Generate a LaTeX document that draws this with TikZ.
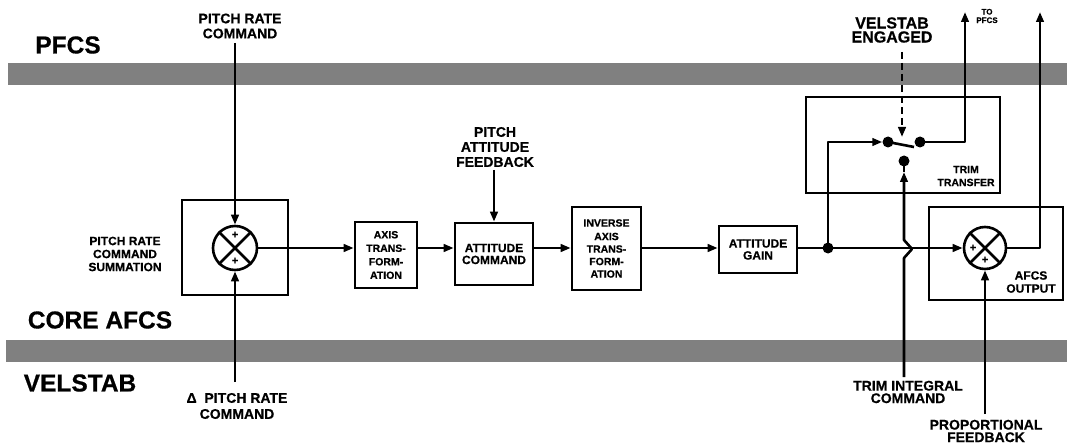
\documentclass[tikz,border=0pt]{standalone}
\usepackage{fontspec}
\setmainfont{Liberation Sans}[BoldFeatures={FakeBold=0.6}]
\usetikzlibrary{arrows.meta,calc}
\begin{document}
\begin{tikzpicture}[x=1pt,y=-1pt,
  ln/.style={line width=2.6pt,line join=round},
  arr/.style={ln,-{Triangle[length=10pt,width=7.5pt]}},
  blk/.style={draw,line width=2.6pt,inner sep=0pt,align=center,font=\fontsize{12}{12}\selectfont\bfseries},
  lab/.style={align=center,inner sep=0pt,font=\fontsize{14}{15}\selectfont\bfseries},
  big/.style={inner sep=0pt,font=\fontsize{24.5}{26}\selectfont\bfseries},
  sumc/.style={circle,draw,line width=2.6pt,minimum size=44pt,inner sep=0pt},
  dotn/.style={circle,fill,inner sep=0pt,minimum size=11pt},
  plus/.style={inner sep=0pt,font=\fontsize{11}{11}\selectfont\bfseries},
  band/.style={fill=black!50}
]
\useasboundingbox (0,0) rectangle (1067,446);
% bands
\fill[band] (8,63) rectangle (1067,85);
\fill[band] (6,340) rectangle (1067,362);
% region labels
\node[big] (pfcs) at (68,45) {PFCS};
\node[big] (core) at (100,320) {CORE AFCS};
\node[big] (vel) at (80,383) {VELSTAB};
% external labels
\node[lab] (prc) at (240,26) {PITCH RATE\\COMMAND};
\node[lab,font=\fontsize{14}{16}\selectfont\bfseries] (dprc) at (237,406) {Δ\ \ PITCH RATE\\COMMAND};
\node[lab] (paf) at (495,147) {PITCH\\ATTITUDE\\FEEDBACK};
\node[lab,font=\fontsize{14}{12.5}\selectfont\bfseries] (tic) at (908,392) {TRIM INTEGRAL\\COMMAND};
\node[lab,font=\fontsize{14}{12.5}\selectfont\bfseries] (pf) at (986,431) {PROPORTIONAL\\FEEDBACK};
\node[lab,font=\fontsize{16}{14}\selectfont\bfseries] (ve) at (892,30) {VELSTAB\\ENGAGED};
\node[lab,font=\fontsize{8}{8.5}\selectfont\bfseries] (topfcs) at (987,16) {TO\\PFCS};
\node[lab,font=\fontsize{12}{13}\selectfont\bfseries] (sumlab) at (125,254) {PITCH RATE\\COMMAND\\SUMMATION};
% blocks
\node[blk,minimum width=106pt,minimum height=95pt] (b1) at (235,247.5) {};
\node[sumc] (s1) at (235,248) {};
\draw[ln] (s1.45)--(s1.225) (s1.135)--(s1.315);
\node[plus] (s1p1) at (235,235) {+};
\node[plus] (s1p2) at (235,261) {+};
\node[blk,minimum width=62pt,minimum height=66pt,font=\fontsize{10.5}{13.5}\selectfont\bfseries] (axis) at (386,255) {AXIS\\TRANS-\\FORM-\\ATION};
\node[blk,minimum width=78pt,minimum height=62pt] (att) at (494,254) {ATTITUDE\\COMMAND};
\node[blk,minimum width=69pt,minimum height=83pt,font=\fontsize{10.5}{12.5}\selectfont\bfseries] (inv) at (606.5,248.5) {INVERSE\\[1pt]AXIS\\TRANS-\\FORM-\\ATION};
\node[blk,minimum width=78pt,minimum height=47pt] (gain) at (758,249.5) {ATTITUDE\\GAIN};
\node[blk,minimum width=194pt,minimum height=96pt] (tt) at (903,145) {};
\node[lab,font=\fontsize{10.5}{13}\selectfont\bfseries] (ttl) at (966,176) {TRIM\\TRANSFER};
\node[blk,minimum width=134pt,minimum height=93pt] (ao) at (996,253.5) {};
\node[lab,font=\fontsize{12}{13}\selectfont\bfseries] (aol) at (1031,282) {AFCS\\OUTPUT};
\node[sumc,minimum size=42pt] (s2) at (985,248) {};
\draw[ln] (s2.45)--(s2.225) (s2.135)--(s2.315);
\node[plus] (s2p1) at (973,248) {+};
\node[plus] (s2p2) at (985,260) {+};
% main signal path
\draw[arr] (s1.east) -- (s1.east -| axis.west);
\draw[arr] (axis.east |- s1.east) -- (att.west |- s1.east);
\draw[arr] (att.east |- s1.east) -- (inv.west |- s1.east);
\draw[arr] (inv.east |- s1.east) -- (gain.west |- s1.east);
\coordinate (j) at (828,248);
\draw[ln] (gain.east |- j) -- (j);
\draw[arr] (j) -- (s2.west);
\node[dotn] (jd) at (j) {};
% inputs
\coordinate (p0) at (235,43);
\draw[arr] (p0) -- (s1.north);
\coordinate (d0) at (235,382);
\draw[arr] (d0) -- (s1.south);
\coordinate (a0) at (494,170);
\draw[arr] (a0) -- (att.north);
% switch
\node[dotn] (lc) at (888,142) {};
\node[dotn] (rc) at (920,142) {};
\node[dotn] (bc) at (904,161) {};
\draw[arr] (j) |- (lc.west);
\coordinate (blade) at (914,147);
\draw[ln] (lc.center) -- (blade);
\coordinate (o1) at (965,12);
\draw[arr] (rc.center) -| (o1);
\coordinate (o2) at (1040,12);
\draw[arr] (s2.east) -| (o2);
\coordinate (v0) at (902,52);
\coordinate (v1) at (902,137);
\draw[arr,dash pattern=on 7pt off 4pt] (v0) -- (v1);
% trim integral command with hop
\coordinate (t0) at (904,377);
\coordinate (h1) at (904,258);
\coordinate (h2) at (912,249);
\coordinate (h3) at (904,240);
\coordinate (t1) at (904,172);
\draw[arr] (t0) -- (h1) -- (h2) -- (h3) -- (t1);
\draw[ln] (t1) -- (bc.center);
% proportional feedback
\coordinate (f0) at (985,414);
\draw[arr] (f0) -- (s2.south);
\end{tikzpicture}
\end{document}
